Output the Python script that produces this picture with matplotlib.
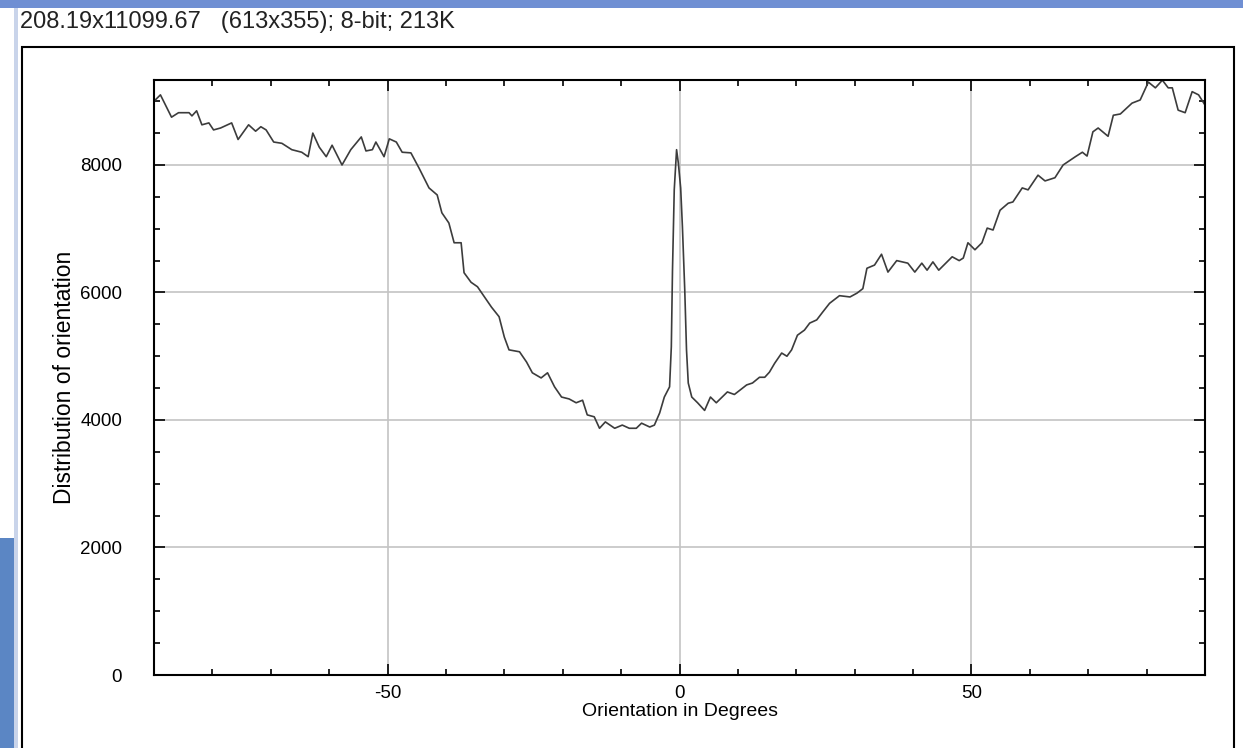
import matplotlib.pyplot as plt
from matplotlib.patches import Rectangle
from matplotlib.ticker import MultipleLocator

plt.rcParams['font.family'] = ['Liberation Sans', 'DejaVu Sans']
plt.rcParams['axes.unicode_minus'] = False

angles = [-90, -88.9, -87, -85.8, -84, -83.5, -82.7, -81.8, -80.6, -79.8, -78.6, -76.7,
          -75.6, -73.8, -72.6, -71.7, -70.8, -69.5, -68.1, -66.4, -64.7, -63.6, -62.8,
          -61.7, -60.5, -59.5, -57.8, -56.3, -54.5, -53.7, -52.6, -52, -50.6, -49.7,
          -48.5, -47.5, -46, -44.6, -42.9, -41.5, -40.7, -39.5, -38.6, -37.4, -36.9,
          -35.7, -34.6, -33.4, -32.2, -30.9, -30, -29.2, -27.4, -26.2, -25.2, -23.7,
          -22.6, -21.4, -20.2, -18.9, -17.7, -16.6, -15.8, -14.6, -13.7, -12.7, -11.1,
          -9.8, -8.6, -7.4, -6.5, -5.1, -4.3, -3.4, -2.6, -1.7, -1.4, -1.2, -0.9, -0.5,
          -0.2, 0.2, 0.5, 0.9, 1.2, 1.5, 2.1, 3.1, 4.3, 5.3, 6.3, 8.2, 9.4, 11.5, 12.5,
          13.7, 14.6, 15.4, 16.3, 17.5, 18.4, 19.2, 20.2, 21.4, 22.3, 23.5, 24.5, 25.7,
          27.4, 29.2, 30.4, 31.4, 32.1, 33.4, 34.6, 35.7, 37.2, 39.1, 40.3, 41.5, 42.4,
          43.4, 44.4, 46.7, 47.9, 48.6, 49.4, 50.6, 51.8, 52.7, 53.7, 54.9, 56.3, 57.1,
          58.7, 59.7, 61.4, 62.6, 64.3, 65.7, 67.8, 69, 69.8, 70.8, 71.7, 73.4, 74.3,
          75.5, 77.5, 78.9, 80.3, 81.5, 82.7, 83.7, 84.4, 85.4, 86.6, 87.8, 88.9, 90]
counts = [9000, 9100, 8750, 8820, 8820, 8770, 8850, 8630, 8660, 8550, 8580, 8660,
          8400, 8630, 8530, 8600, 8550, 8360, 8340, 8240, 8200, 8130, 8500,
          8280, 8130, 8310, 8000, 8240, 8440, 8220, 8240, 8360, 8130, 8410,
          8360, 8200, 8190, 7950, 7640, 7530, 7250, 7090, 6780, 6780, 6310,
          6160, 6090, 5930, 5770, 5620, 5300, 5100, 5070, 4910, 4740, 4660,
          4740, 4520, 4360, 4330, 4270, 4310, 4080, 4050, 3870, 3970, 3870,
          3920, 3870, 3870, 3950, 3890, 3920, 4110, 4360, 4520, 5150, 6350, 7610, 8240,
          8030, 7640, 7030, 6040, 5100, 4580, 4360, 4270, 4150, 4360, 4270, 4440, 4400, 4550, 4580,
          4670, 4670, 4750, 4890, 5050, 5000, 5100, 5330, 5410, 5520, 5570, 5690, 5830,
          5950, 5930, 5990, 6060, 6380, 6430, 6600, 6320, 6500, 6460, 6320, 6460, 6350,
          6480, 6350, 6560, 6500, 6540, 6780, 6670, 6780, 7010, 6980, 7290, 7400, 7420,
          7640, 7610, 7840, 7750, 7800, 8000, 8130, 8200, 8140, 8520, 8580, 8450, 8780,
          8800, 8970, 9020, 9300, 9210, 9330, 9210, 9210, 8860, 8820, 9150, 9100, 8940]

fig = plt.figure(figsize=(12.43, 7.48), dpi=100)

# window chrome (ImageJ plot window screenshot)
fig.patches.append(Rectangle((0, 1 - 8 / 748), 1, 8 / 748, transform=fig.transFigure,
                             facecolor='#6f8fd3', edgecolor='none', zorder=0))
fig.patches.append(Rectangle((0, 0), 14 / 1243, 210 / 748, transform=fig.transFigure,
                             facecolor='#5b86c4', edgecolor='none', zorder=0))
fig.patches.append(Rectangle((14 / 1243, 0), 4 / 1243, 740 / 748, transform=fig.transFigure,
                             facecolor='#c9d4ea', edgecolor='none', zorder=0))
fig.patches.append(Rectangle((22 / 1243, -0.01), 1212 / 1243, (748 - 47) / 748 + 0.01,
                             transform=fig.transFigure, facecolor='none',
                             edgecolor='black', linewidth=1.5, zorder=1))
fig.text(20 / 1243, 1 - 22 / 748, '208.19x11099.67   (613x355); 8-bit; 213K',
         fontsize=17, va='center', ha='left', color='#222222')

ax = fig.add_axes([154 / 1243, 73 / 748, 1051 / 1243, 595 / 748])
ax.plot(angles, counts, color='#3c3c3c', linewidth=1.2)

ax.set_xlim(-90, 90)
ax.set_ylim(0, 9333)
ax.xaxis.set_major_locator(MultipleLocator(50))
ax.xaxis.set_minor_locator(MultipleLocator(10))
ax.yaxis.set_major_locator(MultipleLocator(2000))
ax.yaxis.set_minor_locator(MultipleLocator(500))
ax.grid(True, which='major', color='#c4c4c4', linewidth=1.2)
ax.set_axisbelow(True)
ax.tick_params(which='both', direction='in', top=True, right=True, labelsize=13.5,
               color='black', width=1.2)
ax.tick_params(which='major', length=8)
ax.tick_params(axis='x', which='major', pad=7)
ax.tick_params(axis='y', which='major', pad=23)
ax.tick_params(which='minor', length=4)
for s in ax.spines.values():
    s.set_linewidth(1.5)

ax.set_xlabel('Orientation in Degrees', fontsize=14, labelpad=1)
ax.set_ylabel('Distribution of orientation', fontsize=16.5)
ax.yaxis.set_label_coords(-78 / 1051, 0.5)

fig.savefig('out.png', dpi=100)
